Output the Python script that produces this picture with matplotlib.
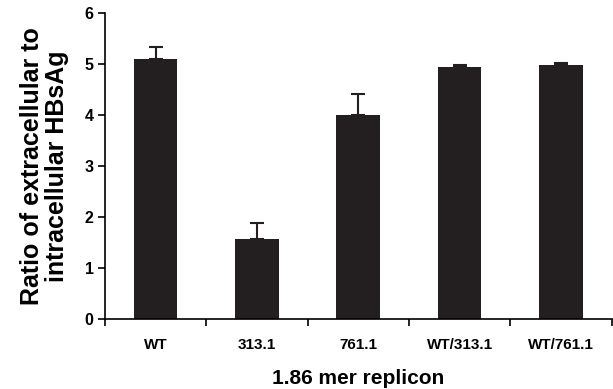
import matplotlib
matplotlib.use("Agg")
import matplotlib.pyplot as plt
import numpy as np

plt.rcParams['font.family'] = ['Liberation Sans', 'DejaVu Sans']

# data
groups = ["WT", "313.1", "761.1", "WT/313.1", "WT/761.1"]
ratio = [5.10, 1.57, 4.00, 4.94, 4.98]
err = [0.24, 0.31, 0.40, 0.03, 0.04]

fig = plt.figure(figsize=(6.13, 3.89), dpi=100)
ax = fig.add_axes([0.171, 0.18, 0.827, 0.787])

x = np.arange(len(groups)) + 0.5
ax.bar(x, ratio, width=0.43, color="#231f20", zorder=2)
ax.errorbar(x, ratio, yerr=[np.zeros(len(err)), err], fmt="none",
            ecolor="#231f20", elinewidth=1.5, capsize=5, capthick=1.5, zorder=1)

ax.set_xlim(0, 5)
ax.set_ylim(0, 6)
ax.set_yticks(range(7))
ax.set_xticks(range(6))
ax.set_xticklabels([])
ax.set_xticks(x, minor=True)
ax.set_xticklabels(groups, minor=True, fontsize=11, fontweight="bold")
ax.tick_params(axis="x", which="minor", length=0, pad=14)
ax.tick_params(axis="x", which="major", length=5, width=1.2)
ax.tick_params(axis="y", length=5, width=1.2, labelsize=11.5, pad=3)
for lab in ax.get_yticklabels():
    lab.set_fontweight("bold")

ax.spines["top"].set_visible(False)
ax.spines["right"].set_visible(False)
ax.spines["left"].set_linewidth(1.2)
ax.spines["bottom"].set_linewidth(1.2)

ax.set_ylabel("Ratio of extracellular to\nintracellular HBsAg", fontsize=18,
              fontweight="bold", linespacing=1.05, labelpad=11)
ax.set_xlabel("1.86 mer replicon", fontsize=15, fontweight="bold", labelpad=12)

fig.savefig("out.png", dpi=100)
